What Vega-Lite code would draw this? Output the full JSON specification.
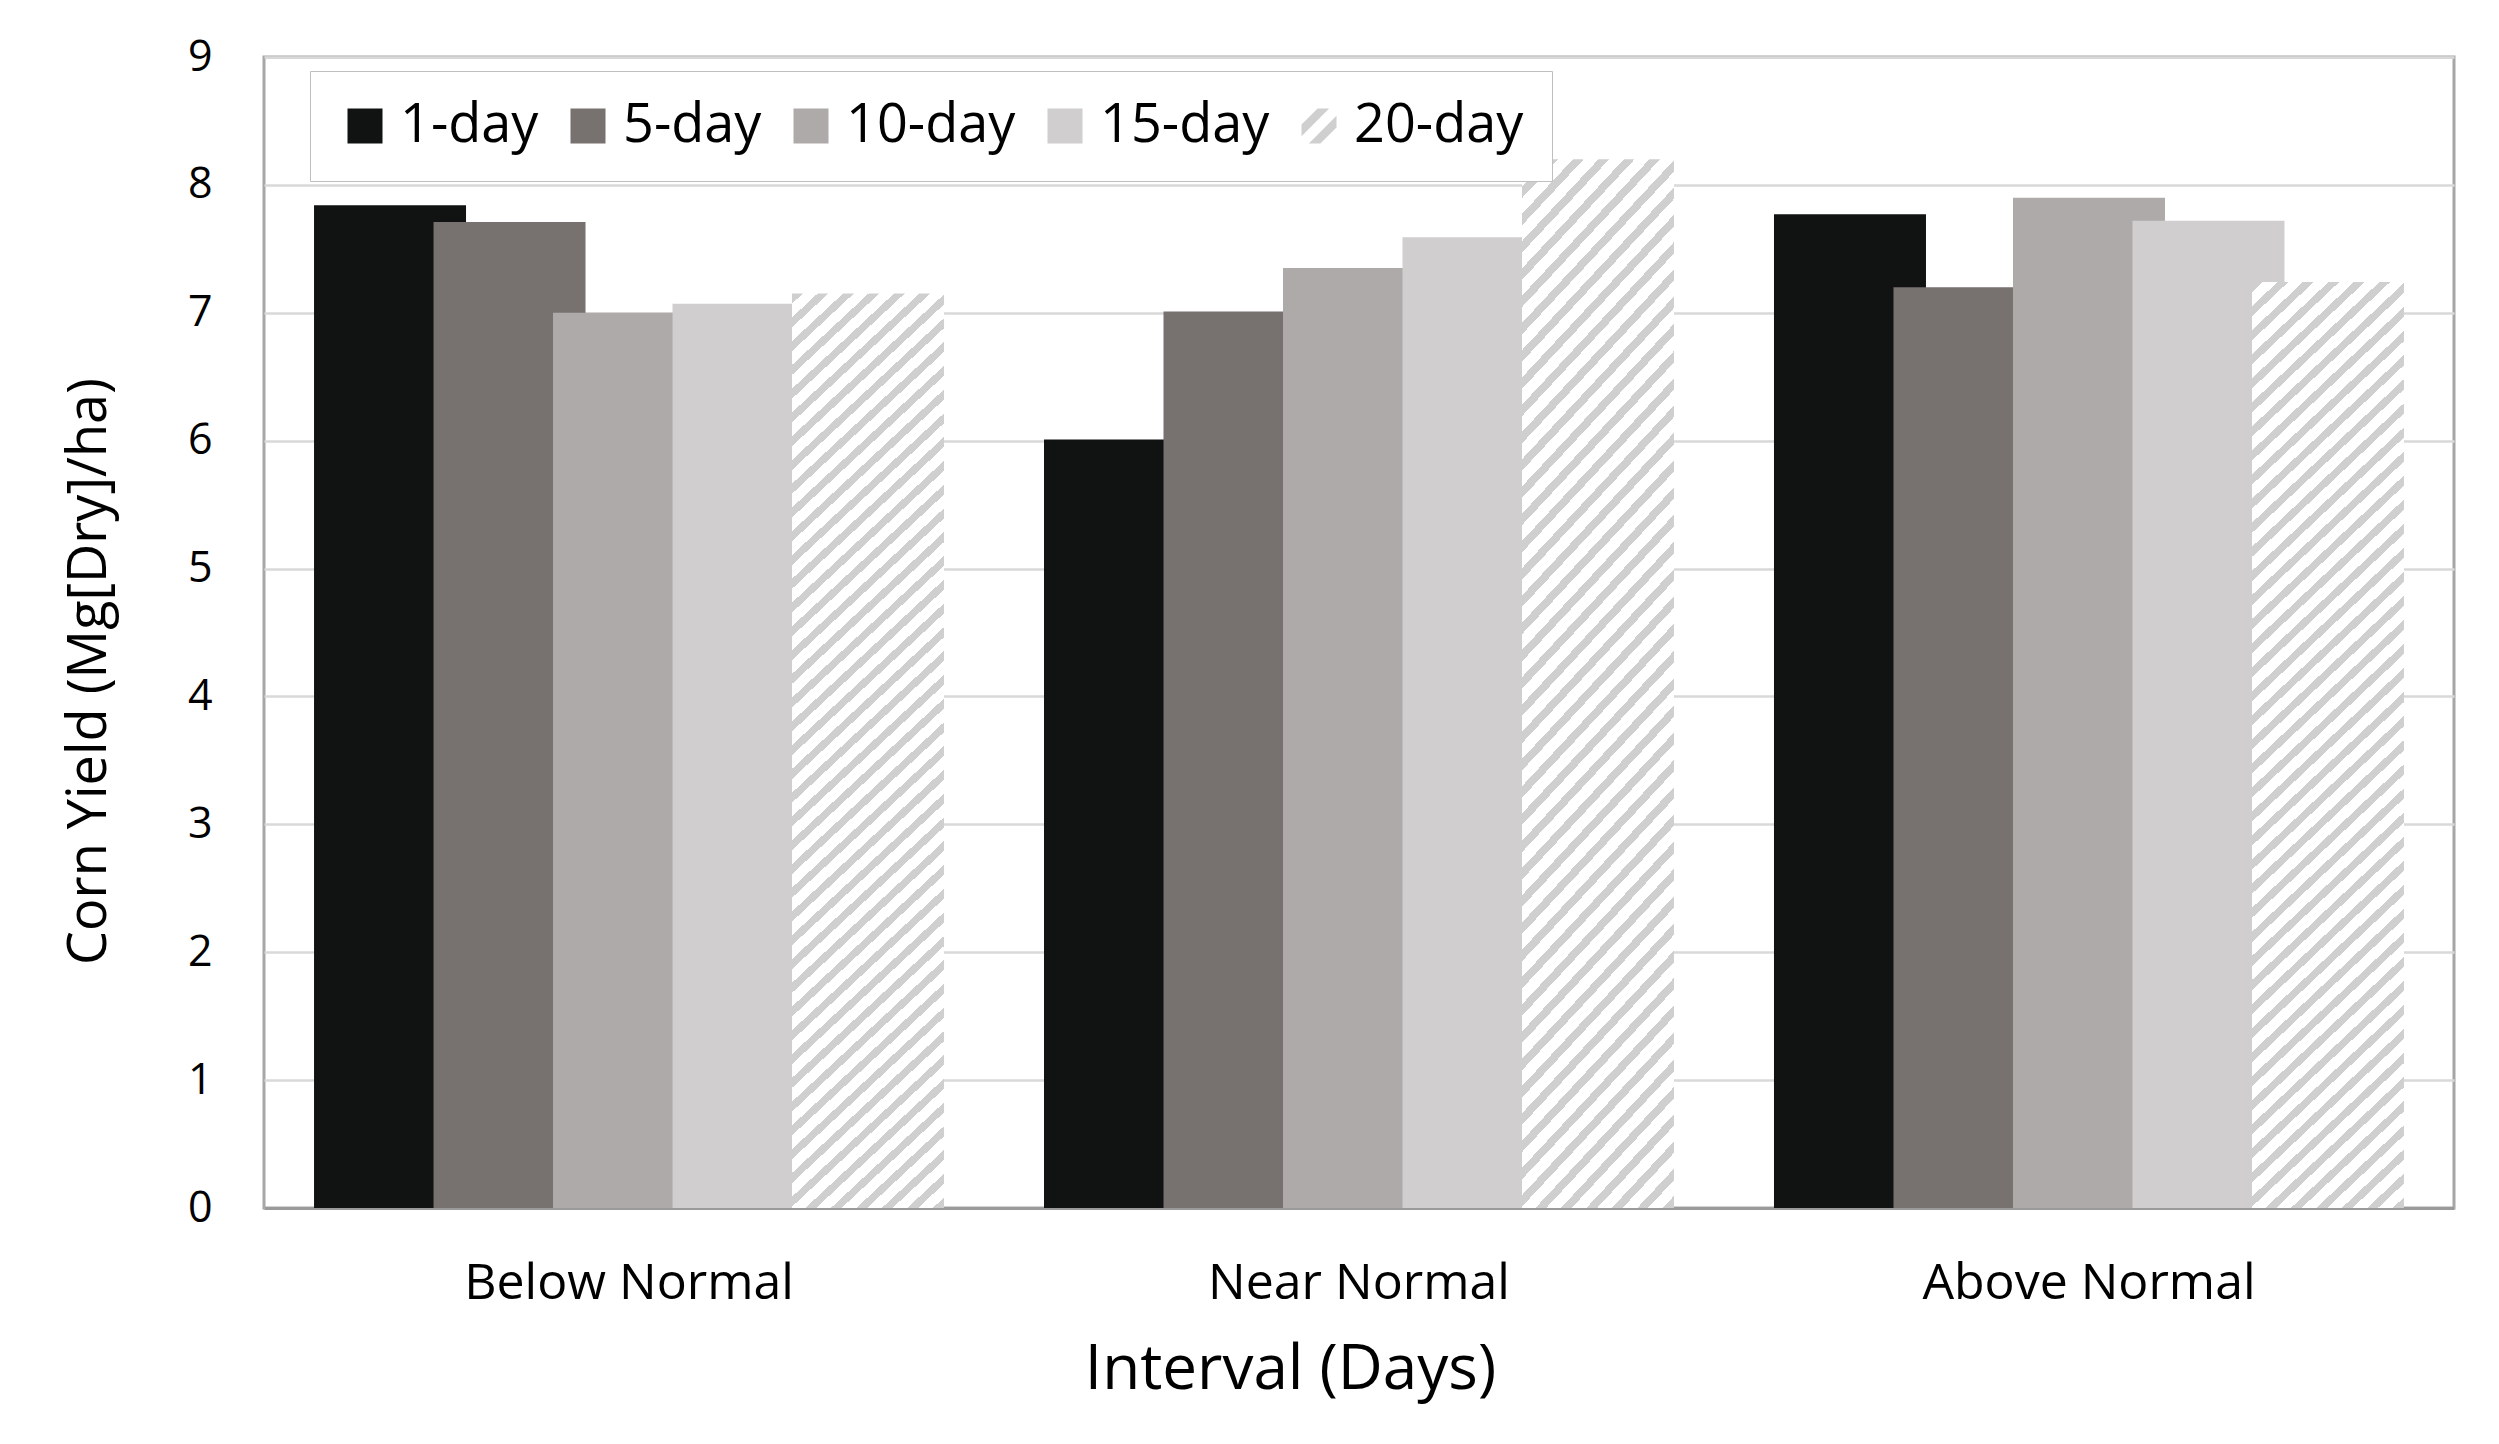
{
  "$schema": "https://vega.github.io/schema/vega-lite/v6.json",
  "autosize": {"type": "none"},
  "width": 2190,
  "height": 1151,
  "padding": {"left": 264, "top": 57, "right": 45, "bottom": 236},
  "background": "white",
  "config": {"font": "Open Sans", "view": {"stroke": "#a6a6a6", "strokeWidth": 3}},
  "data": {
    "values": [
      {"weather": "Below Normal", "interval": "1-day", "yield": 7.84},
      {"weather": "Below Normal", "interval": "5-day", "yield": 7.71},
      {"weather": "Below Normal", "interval": "10-day", "yield": 7.0},
      {"weather": "Below Normal", "interval": "15-day", "yield": 7.07},
      {"weather": "Below Normal", "interval": "20-day", "yield": 7.15},
      {"weather": "Near Normal", "interval": "1-day", "yield": 6.01},
      {"weather": "Near Normal", "interval": "5-day", "yield": 7.01},
      {"weather": "Near Normal", "interval": "10-day", "yield": 7.35},
      {"weather": "Near Normal", "interval": "15-day", "yield": 7.59},
      {"weather": "Near Normal", "interval": "20-day", "yield": 8.2},
      {"weather": "Above Normal", "interval": "1-day", "yield": 7.77},
      {"weather": "Above Normal", "interval": "5-day", "yield": 7.2},
      {"weather": "Above Normal", "interval": "10-day", "yield": 7.9},
      {"weather": "Above Normal", "interval": "15-day", "yield": 7.72},
      {"weather": "Above Normal", "interval": "20-day", "yield": 7.24}
    ]
  },
  "encoding": {
    "x": {
      "field": "weather", "type": "nominal",
      "sort": ["Below Normal", "Near Normal", "Above Normal"],
      "scale": {"paddingInner": 0.1815, "paddingOuter": 0.0908},
      "axis": {
        "title": "Interval (Days)", "labelAngle": 0, "labelFontSize": 50, "labelColor": "#000000", "labelLimit": 800,
        "labelPadding": 50, "ticks": false, "domain": true, "domainColor": "#9a9a9a", "domainWidth": 3,
        "grid": false, "titleFontSize": 62, "titleFontWeight": "normal", "titleColor": "#000000",
        "titleX": 1026, "titleY": 180, "titleBaseline": "alphabetic", "titleAlign": "center"
      }
    },
    "xOffset": {
      "field": "interval", "type": "nominal",
      "sort": ["1-day", "5-day", "10-day", "15-day", "20-day"],
      "scale": {"paddingInner": 0, "paddingOuter": 0}
    },
    "y": {
      "field": "yield", "type": "quantitative",
      "scale": {"domain": [0, 9], "nice": false},
      "axis": {
        "title": "Corn Yield (Mg[Dry]/ha)", "values": [0, 1, 2, 3, 4, 5, 6, 7, 8, 9],
        "labelFontSize": 43, "labelColor": "#000000", "labelPadding": 52, "ticks": false, "domain": false,
        "grid": true, "gridColor": "#d9d9d9", "gridWidth": 2.5,
        "titleFontSize": 54, "titleFontWeight": "normal", "titleColor": "#000000",
        "titleX": -159, "titleY": 614, "titleAngle": -90, "titleBaseline": "alphabetic", "titleAlign": "center"
      }
    }
  },
  "layer": [
    {
      "mark": {"type": "bar", "width": 152},
      "encoding": {
        "fill": {
          "field": "interval", "type": "nominal",
          "scale": {
            "domain": ["1-day", "5-day", "10-day", "15-day", "20-day"],
            "range": ["#111312", "#77716f", "#aeaaa9", "#d0cecf", "#d0cfcf"]
          },
          "condition": {
            "test": "datum.interval === '20-day'",
            "value": {
              "gradient": "linear", "x1": 0, "y1": 0, "x2": 0.175, "y2": 1.128,
              "stops": [
                {"offset": 0, "color": "#d0cfcf"}, {"offset": 0.0095, "color": "#d0cfcf"}, {"offset": 0.0095, "color": "#ffffff"}, {"offset": 0.0225, "color": "#ffffff"},
                {"offset": 0.0225, "color": "#d0cfcf"}, {"offset": 0.032, "color": "#d0cfcf"}, {"offset": 0.032, "color": "#ffffff"}, {"offset": 0.045, "color": "#ffffff"},
                {"offset": 0.045, "color": "#d0cfcf"}, {"offset": 0.0545, "color": "#d0cfcf"}, {"offset": 0.0545, "color": "#ffffff"}, {"offset": 0.0675, "color": "#ffffff"},
                {"offset": 0.0675, "color": "#d0cfcf"}, {"offset": 0.077, "color": "#d0cfcf"}, {"offset": 0.077, "color": "#ffffff"}, {"offset": 0.09, "color": "#ffffff"},
                {"offset": 0.09, "color": "#d0cfcf"}, {"offset": 0.0995, "color": "#d0cfcf"}, {"offset": 0.0995, "color": "#ffffff"}, {"offset": 0.1125, "color": "#ffffff"},
                {"offset": 0.1125, "color": "#d0cfcf"}, {"offset": 0.122, "color": "#d0cfcf"}, {"offset": 0.122, "color": "#ffffff"}, {"offset": 0.135, "color": "#ffffff"},
                {"offset": 0.135, "color": "#d0cfcf"}, {"offset": 0.1445, "color": "#d0cfcf"}, {"offset": 0.1445, "color": "#ffffff"}, {"offset": 0.1575, "color": "#ffffff"},
                {"offset": 0.1575, "color": "#d0cfcf"}, {"offset": 0.167, "color": "#d0cfcf"}, {"offset": 0.167, "color": "#ffffff"}, {"offset": 0.18, "color": "#ffffff"},
                {"offset": 0.18, "color": "#d0cfcf"}, {"offset": 0.1895, "color": "#d0cfcf"}, {"offset": 0.1895, "color": "#ffffff"}, {"offset": 0.2025, "color": "#ffffff"},
                {"offset": 0.2025, "color": "#d0cfcf"}, {"offset": 0.212, "color": "#d0cfcf"}, {"offset": 0.212, "color": "#ffffff"}, {"offset": 0.225, "color": "#ffffff"},
                {"offset": 0.225, "color": "#d0cfcf"}, {"offset": 0.2345, "color": "#d0cfcf"}, {"offset": 0.2345, "color": "#ffffff"}, {"offset": 0.2475, "color": "#ffffff"},
                {"offset": 0.2475, "color": "#d0cfcf"}, {"offset": 0.257, "color": "#d0cfcf"}, {"offset": 0.257, "color": "#ffffff"}, {"offset": 0.27, "color": "#ffffff"},
                {"offset": 0.27, "color": "#d0cfcf"}, {"offset": 0.2795, "color": "#d0cfcf"}, {"offset": 0.2795, "color": "#ffffff"}, {"offset": 0.2925, "color": "#ffffff"},
                {"offset": 0.2925, "color": "#d0cfcf"}, {"offset": 0.302, "color": "#d0cfcf"}, {"offset": 0.302, "color": "#ffffff"}, {"offset": 0.315, "color": "#ffffff"},
                {"offset": 0.315, "color": "#d0cfcf"}, {"offset": 0.3245, "color": "#d0cfcf"}, {"offset": 0.3245, "color": "#ffffff"}, {"offset": 0.3375, "color": "#ffffff"},
                {"offset": 0.3375, "color": "#d0cfcf"}, {"offset": 0.347, "color": "#d0cfcf"}, {"offset": 0.347, "color": "#ffffff"}, {"offset": 0.36, "color": "#ffffff"},
                {"offset": 0.36, "color": "#d0cfcf"}, {"offset": 0.3695, "color": "#d0cfcf"}, {"offset": 0.3695, "color": "#ffffff"}, {"offset": 0.3825, "color": "#ffffff"},
                {"offset": 0.3825, "color": "#d0cfcf"}, {"offset": 0.392, "color": "#d0cfcf"}, {"offset": 0.392, "color": "#ffffff"}, {"offset": 0.405, "color": "#ffffff"},
                {"offset": 0.405, "color": "#d0cfcf"}, {"offset": 0.4145, "color": "#d0cfcf"}, {"offset": 0.4145, "color": "#ffffff"}, {"offset": 0.4275, "color": "#ffffff"},
                {"offset": 0.4275, "color": "#d0cfcf"}, {"offset": 0.437, "color": "#d0cfcf"}, {"offset": 0.437, "color": "#ffffff"}, {"offset": 0.45, "color": "#ffffff"},
                {"offset": 0.45, "color": "#d0cfcf"}, {"offset": 0.4595, "color": "#d0cfcf"}, {"offset": 0.4595, "color": "#ffffff"}, {"offset": 0.4725, "color": "#ffffff"},
                {"offset": 0.4725, "color": "#d0cfcf"}, {"offset": 0.482, "color": "#d0cfcf"}, {"offset": 0.482, "color": "#ffffff"}, {"offset": 0.495, "color": "#ffffff"},
                {"offset": 0.495, "color": "#d0cfcf"}, {"offset": 0.5045, "color": "#d0cfcf"}, {"offset": 0.5045, "color": "#ffffff"}, {"offset": 0.5175, "color": "#ffffff"},
                {"offset": 0.5175, "color": "#d0cfcf"}, {"offset": 0.527, "color": "#d0cfcf"}, {"offset": 0.527, "color": "#ffffff"}, {"offset": 0.54, "color": "#ffffff"},
                {"offset": 0.54, "color": "#d0cfcf"}, {"offset": 0.5495, "color": "#d0cfcf"}, {"offset": 0.5495, "color": "#ffffff"}, {"offset": 0.5625, "color": "#ffffff"},
                {"offset": 0.5625, "color": "#d0cfcf"}, {"offset": 0.572, "color": "#d0cfcf"}, {"offset": 0.572, "color": "#ffffff"}, {"offset": 0.585, "color": "#ffffff"},
                {"offset": 0.585, "color": "#d0cfcf"}, {"offset": 0.5945, "color": "#d0cfcf"}, {"offset": 0.5945, "color": "#ffffff"}, {"offset": 0.6075, "color": "#ffffff"},
                {"offset": 0.6075, "color": "#d0cfcf"}, {"offset": 0.617, "color": "#d0cfcf"}, {"offset": 0.617, "color": "#ffffff"}, {"offset": 0.63, "color": "#ffffff"},
                {"offset": 0.63, "color": "#d0cfcf"}, {"offset": 0.6395, "color": "#d0cfcf"}, {"offset": 0.6395, "color": "#ffffff"}, {"offset": 0.6525, "color": "#ffffff"},
                {"offset": 0.6525, "color": "#d0cfcf"}, {"offset": 0.662, "color": "#d0cfcf"}, {"offset": 0.662, "color": "#ffffff"}, {"offset": 0.675, "color": "#ffffff"},
                {"offset": 0.675, "color": "#d0cfcf"}, {"offset": 0.6845, "color": "#d0cfcf"}, {"offset": 0.6845, "color": "#ffffff"}, {"offset": 0.6975, "color": "#ffffff"},
                {"offset": 0.6975, "color": "#d0cfcf"}, {"offset": 0.707, "color": "#d0cfcf"}, {"offset": 0.707, "color": "#ffffff"}, {"offset": 0.72, "color": "#ffffff"},
                {"offset": 0.72, "color": "#d0cfcf"}, {"offset": 0.7295, "color": "#d0cfcf"}, {"offset": 0.7295, "color": "#ffffff"}, {"offset": 0.7425, "color": "#ffffff"},
                {"offset": 0.7425, "color": "#d0cfcf"}, {"offset": 0.752, "color": "#d0cfcf"}, {"offset": 0.752, "color": "#ffffff"}, {"offset": 0.765, "color": "#ffffff"},
                {"offset": 0.765, "color": "#d0cfcf"}, {"offset": 0.7745, "color": "#d0cfcf"}, {"offset": 0.7745, "color": "#ffffff"}, {"offset": 0.7875, "color": "#ffffff"},
                {"offset": 0.7875, "color": "#d0cfcf"}, {"offset": 0.797, "color": "#d0cfcf"}, {"offset": 0.797, "color": "#ffffff"}, {"offset": 0.81, "color": "#ffffff"},
                {"offset": 0.81, "color": "#d0cfcf"}, {"offset": 0.8195, "color": "#d0cfcf"}, {"offset": 0.8195, "color": "#ffffff"}, {"offset": 0.8325, "color": "#ffffff"},
                {"offset": 0.8325, "color": "#d0cfcf"}, {"offset": 0.842, "color": "#d0cfcf"}, {"offset": 0.842, "color": "#ffffff"}, {"offset": 0.855, "color": "#ffffff"},
                {"offset": 0.855, "color": "#d0cfcf"}, {"offset": 0.8645, "color": "#d0cfcf"}, {"offset": 0.8645, "color": "#ffffff"}, {"offset": 0.8775, "color": "#ffffff"},
                {"offset": 0.8775, "color": "#d0cfcf"}, {"offset": 0.887, "color": "#d0cfcf"}, {"offset": 0.887, "color": "#ffffff"}, {"offset": 0.9, "color": "#ffffff"},
                {"offset": 0.9, "color": "#d0cfcf"}, {"offset": 0.9095, "color": "#d0cfcf"}, {"offset": 0.9095, "color": "#ffffff"}, {"offset": 0.9225, "color": "#ffffff"},
                {"offset": 0.9225, "color": "#d0cfcf"}, {"offset": 0.932, "color": "#d0cfcf"}, {"offset": 0.932, "color": "#ffffff"}, {"offset": 0.945, "color": "#ffffff"},
                {"offset": 0.945, "color": "#d0cfcf"}, {"offset": 0.9545, "color": "#d0cfcf"}, {"offset": 0.9545, "color": "#ffffff"}, {"offset": 0.9675, "color": "#ffffff"},
                {"offset": 0.9675, "color": "#d0cfcf"}, {"offset": 0.977, "color": "#d0cfcf"}, {"offset": 0.977, "color": "#ffffff"}, {"offset": 0.99, "color": "#ffffff"},
                {"offset": 0.99, "color": "#d0cfcf"}, {"offset": 0.9995, "color": "#d0cfcf"}, {"offset": 0.9995, "color": "#ffffff"}, {"offset": 1, "color": "#ffffff"}
              ]
            }
          },
          "legend": {
            "orient": "none", "legendX": 46, "legendY": 14, "direction": "horizontal", "columns": 5,
            "title": null, "symbolSize": 1225, "symbolStrokeWidth": 0, "symbolOpacity": 1,
            "labelFontSize": 54, "labelColor": "#000000", "labelOffset": 8, "labelLimit": 400,
            "columnPadding": 22, "padding": 28, "strokeColor": "#bfbfbf", "fillColor": "#ffffff"
          }
        }
      }
    },
    {
      "mark": {"type": "point", "filled": true, "size": 0, "opacity": 1},
      "encoding": {
        "shape": {
          "field": "interval", "type": "nominal",
          "scale": {
            "domain": ["1-day", "5-day", "10-day", "15-day", "20-day"],
            "range": ["square", "square", "square", "square", "M-1,-0.08L-0.08,-1L0.58,-1L-1,0.58ZM-0.58,1L1,-0.58L1,0.08L0.08,1Z"]
          },
          "legend": {
            "orient": "none", "legendX": 46, "legendY": 14, "direction": "horizontal", "columns": 5,
            "title": null, "symbolSize": 1225, "symbolStrokeWidth": 0, "symbolOpacity": 1,
            "labelFontSize": 54, "labelColor": "#000000", "labelOffset": 8, "labelLimit": 400,
            "columnPadding": 22, "padding": 28, "strokeColor": "#bfbfbf", "fillColor": "#ffffff"
          }
        }
      }
    }
  ]
}
